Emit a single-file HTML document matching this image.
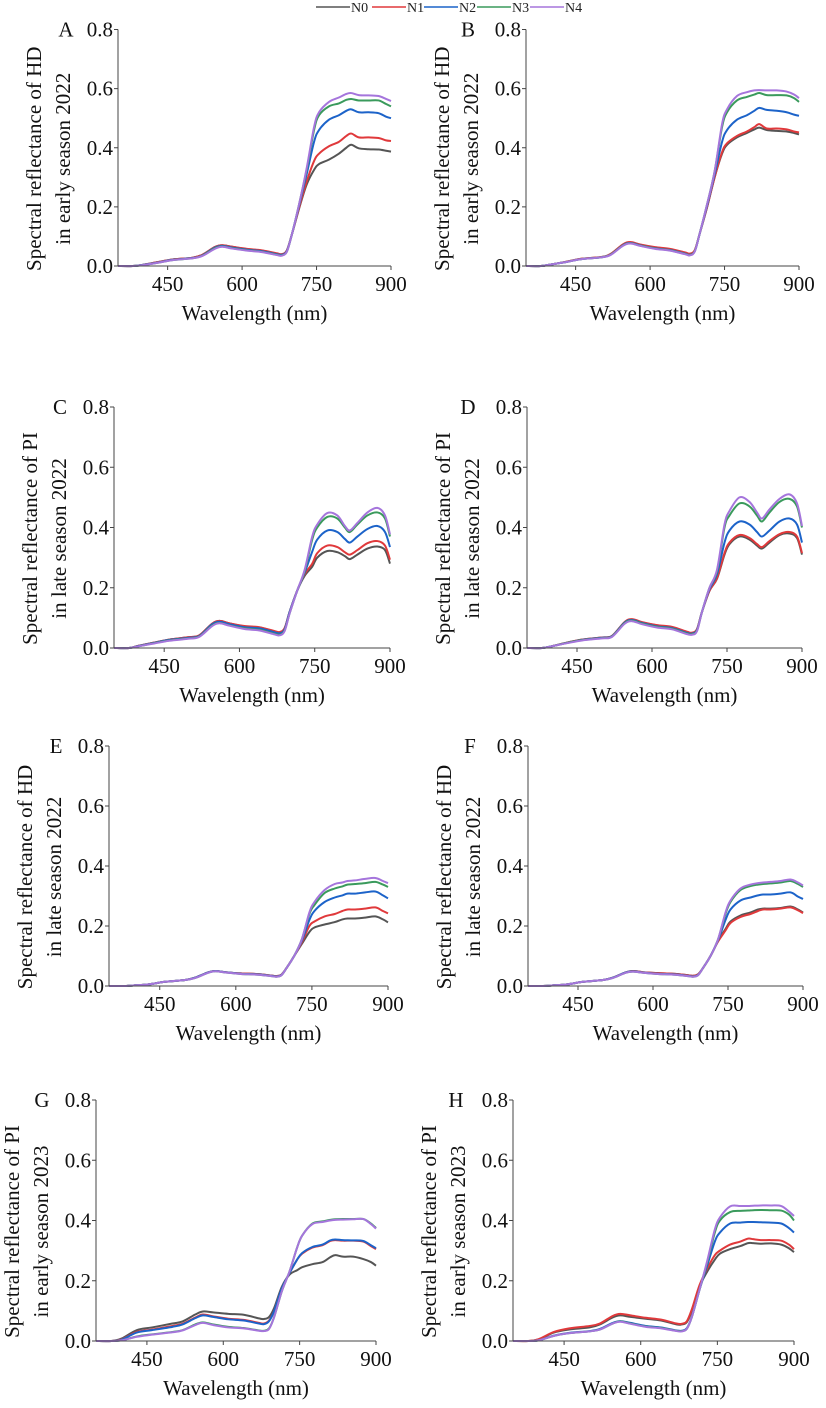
<!DOCTYPE html>
<html><head><meta charset="utf-8">
<style>
html,body{margin:0;padding:0;background:#fff;}
svg{display:block;}
svg text{font-family:"Liberation Serif","Times New Roman","DejaVu Serif",serif;}
</style></head>
<body>
<svg id="fig" width="826" height="1408" viewBox="0 0 826 1408" xmlns="http://www.w3.org/2000/svg" font-family="Liberation Serif, serif">
<g id="legend"></g>
</svg>
<script>
// shared wavelength grid (nm)
const wavelengths = [350,380,400,430,460,500,520,545,560,580,610,640,670,680,690,700,715,730,745,755,775,795,810,820,835,855,875,890,900];
const seriesNames = ["N0","N1","N2","N3","N4"];
const seriesColors = ["#555555","#e0393b","#1c63c9","#3a9a5c","#a575dc"];
const yTicks = [0,0.2,0.4,0.6,0.8];
const yTickLabels = ["0.0","0.2","0.4","0.6","0.8"];
const xTicks = [450,600,750,900];
const xTickLabels = ["450","600","750","900"];

const A_N0=[0,0,.004,.013,.022,.028,.038,.064,.070,.065,.057,.052,.042,.040,.052,.105,.195,.275,.325,.345,.360,.380,.400,.410,.398,.395,.394,.390,.387];
const A_N1=[0,0,.004,.013,.022,.028,.038,.064,.070,.065,.058,.053,.043,.040,.052,.105,.198,.285,.355,.380,.405,.420,.440,.448,.435,.435,.433,.425,.423];
const A_N2=[0,0,.004,.012,.021,.027,.036,.062,.068,.062,.055,.050,.040,.038,.050,.105,.205,.310,.420,.460,.495,.510,.525,.530,.520,.520,.517,.505,.500];
const A_N3=[0,0,.003,.011,.020,.026,.035,.060,.066,.060,.053,.048,.038,.036,.048,.105,.210,.325,.460,.510,.540,.550,.562,.565,.560,.560,.560,.548,.540];
const A_N4=[0,0,.003,.011,.020,.026,.034,.058,.065,.059,.052,.047,.037,.035,.048,.105,.210,.330,.470,.520,.555,.570,.582,.585,.578,.577,.575,.565,.558];

const B_N0=[0,0,.005,.014,.024,.030,.040,.072,.080,.072,.062,.056,.044,.040,.052,.110,.200,.300,.380,.410,.435,.450,.462,.468,.460,.457,.455,.450,.445];
const B_N1=[0,0,.005,.014,.024,.030,.040,.073,.081,.073,.064,.058,.046,.042,.054,.110,.200,.300,.385,.415,.440,.455,.470,.480,.465,.465,.462,.455,.452];
const B_N2=[0,0,.005,.013,.023,.029,.038,.070,.078,.070,.060,.054,.042,.038,.050,.110,.205,.310,.420,.460,.495,.510,.525,.535,.528,.525,.520,.512,.508];
const B_N3=[0,0,.005,.013,.023,.029,.038,.069,.077,.069,.059,.053,.041,.037,.050,.110,.210,.320,.470,.520,.560,.572,.580,.585,.578,.578,.577,.568,.555];
const B_N4=[0,0,.005,.013,.023,.029,.037,.068,.076,.068,.058,.052,.040,.036,.049,.110,.210,.320,.480,.530,.575,.588,.594,.595,.594,.594,.590,.580,.568];

const C_N0=[0,0,.008,.018,.028,.036,.042,.080,.090,.082,.072,.068,.055,.052,.065,.120,.190,.240,.270,.300,.322,.318,.305,.295,.310,.330,.337,.325,.280];
const C_N1=[0,0,.008,.018,.028,.036,.042,.080,.090,.082,.073,.069,.056,.053,.066,.120,.190,.245,.280,.315,.340,.335,.318,.310,.325,.348,.355,.340,.293];
const C_N2=[0,0,.007,.017,.027,.034,.040,.078,.087,.079,.069,.065,.052,.049,.062,.120,.190,.250,.320,.360,.390,.385,.362,.350,.370,.395,.405,.385,.335];
const C_N3=[0,0,.006,.016,.025,.032,.038,.074,.083,.075,.065,.060,.047,.044,.058,.115,.190,.255,.360,.400,.435,.430,.400,.385,.410,.440,.450,.430,.370];
const C_N4=[0,0,.006,.015,.024,.031,.037,.072,.082,.074,.063,.058,.045,.042,.056,.115,.190,.260,.370,.410,.448,.440,.405,.390,.415,.450,.465,.440,.377];

const D_N0=[0,0,.006,.018,.028,.035,.040,.085,.095,.085,.075,.068,.052,.050,.062,.120,.190,.230,.310,.345,.370,.360,.340,.330,.350,.375,.380,.365,.310];
const D_N1=[0,0,.006,.018,.028,.035,.040,.086,.096,.086,.076,.070,.054,.051,.063,.120,.190,.232,.315,.350,.375,.365,.345,.335,.355,.378,.385,.370,.315];
const D_N2=[0,0,.006,.017,.027,.034,.039,.084,.093,.083,.072,.066,.050,.048,.060,.120,.195,.245,.350,.390,.420,.410,.385,.370,.390,.420,.430,.410,.350];
const D_N3=[0,0,.006,.017,.026,.033,.038,.082,.091,.081,.070,.064,.048,.046,.058,.120,.200,.255,.400,.440,.480,.470,.440,.420,.450,.485,.495,.470,.400];
const D_N4=[0,0,.006,.016,.025,.032,.037,.080,.089,.079,.068,.062,.046,.044,.056,.120,.200,.260,.410,.455,.500,.485,.450,.430,.460,.495,.510,.480,.405];

const E_N0=[0,0,.002,.006,.014,.020,.028,.045,.050,.046,.042,.040,.035,.033,.038,.060,.100,.140,.180,.195,.205,.213,.222,.225,.225,.228,.232,.222,.212];
const E_N1=[0,0,.002,.006,.014,.020,.028,.045,.050,.046,.042,.040,.035,.033,.038,.060,.100,.145,.200,.215,.232,.240,.250,.255,.255,.258,.262,.250,.242];
const E_N2=[0,0,.002,.006,.014,.020,.028,.045,.050,.046,.041,.039,.034,.032,.037,.060,.100,.150,.220,.250,.280,.295,.302,.308,.308,.312,.315,.302,.292];
const E_N3=[0,0,.002,.006,.014,.020,.027,.044,.049,.045,.040,.038,.033,.031,.036,.060,.100,.155,.240,.270,.310,.325,.332,.338,.340,.343,.347,.338,.330];
const E_N4=[0,0,.002,.006,.014,.020,.027,.044,.049,.045,.040,.038,.033,.031,.036,.060,.100,.155,.245,.280,.320,.340,.345,.350,.352,.357,.360,.350,.343];

const F_N0=[0,0,.002,.006,.014,.020,.028,.045,.050,.046,.043,.041,.036,.034,.039,.060,.100,.150,.190,.215,.235,.245,.255,.258,.258,.260,.265,.255,.245];
const F_N1=[0,0,.002,.006,.014,.020,.028,.045,.050,.046,.043,.041,.036,.034,.039,.060,.100,.148,.185,.210,.230,.240,.250,.255,.255,.258,.262,.252,.243];
const F_N2=[0,0,.002,.006,.014,.020,.028,.045,.049,.045,.041,.039,.034,.032,.037,.060,.100,.152,.220,.255,.285,.295,.302,.305,.305,.308,.312,.298,.290];
const F_N3=[0,0,.002,.006,.014,.020,.027,.044,.048,.044,.040,.038,.033,.031,.036,.060,.100,.155,.240,.280,.320,.333,.338,.340,.342,.345,.350,.340,.330];
const F_N4=[0,0,.002,.006,.014,.020,.027,.044,.048,.044,.040,.038,.033,.031,.036,.060,.100,.155,.245,.285,.325,.338,.343,.345,.347,.350,.355,.345,.335];

const G_N0=[0,0,.008,.036,.045,.058,.065,.088,.098,.095,.090,.087,.075,.073,.080,.110,.180,.220,.235,.245,.255,.262,.278,.285,.280,.280,.272,.262,.250];
const G_N1=[0,0,.005,.030,.038,.050,.057,.078,.088,.082,.074,.070,.060,.058,.068,.100,.175,.225,.270,.290,.310,.318,.332,.335,.333,.333,.330,.315,.305];
const G_N2=[0,0,.004,.028,.036,.047,.055,.076,.085,.080,.072,.068,.058,.056,.066,.100,.175,.225,.270,.292,.312,.320,.334,.337,.335,.334,.332,.318,.308];
const G_N3=[0,0,.002,.015,.022,.030,.036,.055,.062,.055,.047,.043,.035,.034,.042,.080,.165,.230,.310,.350,.390,.397,.402,.404,.405,.405,.405,.390,.375];
const G_N4=[0,0,.002,.014,.021,.029,.035,.053,.060,.053,.045,.042,.034,.033,.040,.080,.165,.230,.310,.350,.388,.395,.400,.402,.403,.404,.405,.388,.373];

const H_N0=[0,0,.005,.028,.038,.045,.055,.078,.085,.080,.074,.068,.055,.055,.062,.100,.180,.230,.270,.290,.305,.315,.325,.325,.323,.324,.320,.308,.295];
const H_N1=[0,0,.006,.030,.042,.050,.058,.083,.090,.085,.077,.071,.058,.057,.065,.105,.185,.240,.285,.300,.320,.330,.340,.338,.335,.335,.333,.320,.305];
const H_N2=[0,0,.002,.018,.027,.033,.040,.060,.066,.060,.050,.045,.035,.034,.042,.080,.170,.250,.330,.360,.390,.393,.395,.395,.394,.393,.390,.375,.360];
const H_N3=[0,0,.002,.017,.026,.032,.038,.058,.065,.058,.048,.043,.034,.033,.040,.080,.170,.260,.360,.400,.428,.432,.433,.434,.435,.434,.433,.420,.400];
const H_N4=[0,0,.002,.017,.026,.032,.038,.058,.064,.057,.047,.042,.033,.032,.040,.080,.170,.265,.370,.410,.447,.448,.448,.449,.450,.450,.448,.430,.415];

const panels = [
 {id:"A",x0:118,x1:391,yt:29.5,yb:266,lx:66,t1:"Spectral reflectance of HD",t2:"in early season 2022",s:[A_N0,A_N1,A_N2,A_N3,A_N4]},
 {id:"B",x0:526,x1:799,yt:29.5,yb:266,lx:468,t1:"Spectral reflectance of HD",t2:"in early season 2022",s:[B_N0,B_N1,B_N2,B_N3,B_N4]},
 {id:"C",x0:114,x1:390,yt:407,yb:648,lx:60,t1:"Spectral reflectance of PI",t2:"in late season 2022",s:[C_N0,C_N1,C_N2,C_N3,C_N4]},
 {id:"D",x0:527,x1:802,yt:407,yb:648,lx:468,t1:"Spectral reflectance of PI",t2:"in late season 2022",s:[D_N0,D_N1,D_N2,D_N3,D_N4]},
 {id:"E",x0:109,x1:388,yt:746,yb:986,lx:56,t1:"Spectral reflectance of HD",t2:"in late season 2022",s:[E_N0,E_N1,E_N2,E_N3,E_N4]},
 {id:"F",x0:528,x1:803,yt:746,yb:986,lx:470,t1:"Spectral reflectance of HD",t2:"in late season 2022",s:[F_N0,F_N1,F_N2,F_N3,F_N4]},
 {id:"G",x0:96,x1:376,yt:1100,yb:1341,lx:42,t1:"Spectral reflectance of PI",t2:"in early season 2023",s:[G_N0,G_N1,G_N2,G_N3,G_N4]},
 {id:"H",x0:513,x1:794,yt:1100,yb:1341,lx:456,t1:"Spectral reflectance of PI",t2:"in early season 2023",s:[H_N0,H_N1,H_N2,H_N3,H_N4]}
];

const NS="http://www.w3.org/2000/svg";
const FONT="'Liberation Serif', 'Times New Roman', 'DejaVu Serif', serif";
const svg=document.getElementById("fig");
function mk(tag,attrs,parent){const e=document.createElementNS(NS,tag);for(const k in attrs)e.setAttribute(k,attrs[k]);if(tag==="text"){e.setAttribute("font-family",FONT);e.style.fontFamily=FONT;}parent.appendChild(e);return e;}
function smoothPath(pts){
  let d="M"+pts[0][0].toFixed(2)+","+pts[0][1].toFixed(2);
  for(let i=0;i<pts.length-1;i++){
    const p0=pts[Math.max(0,i-1)],p1=pts[i],p2=pts[i+1],p3=pts[Math.min(pts.length-1,i+2)];
    const c1x=p1[0]+(p2[0]-p0[0])/6,c1y=p1[1]+(p2[1]-p0[1])/6;
    const c2x=p2[0]-(p3[0]-p1[0])/6,c2y=p2[1]-(p3[1]-p1[1])/6;
    d+=" C"+c1x.toFixed(2)+","+c1y.toFixed(2)+" "+c2x.toFixed(2)+","+c2y.toFixed(2)+" "+p2[0].toFixed(2)+","+p2[1].toFixed(2);
  }
  return d;
}

panels.forEach(p=>{
  const g=mk("g",{},svg);
  
  
  const xs=w=>p.x0+(w-350)/(900-350)*(p.x1-p.x0);
  const ys=v=>p.yb-(v/0.8)*(p.yb-p.yt);
  p.s.forEach((vals,si)=>{
    const pts=wavelengths.map((w,i)=>[xs(w),ys(vals[i])]);
    const path=mk("path",{d:smoothPath(pts),fill:"none",stroke:seriesColors[si],"stroke-width":"2","stroke-linejoin":"round"},g);
    
    
  });
  const ya=mk("line",{x1:p.x0,y1:p.yt,x2:p.x0,y2:p.yb,stroke:"#444","stroke-width":"1"},g);
  
  
  const xa=mk("line",{x1:p.x0,y1:p.yb,x2:p.x1,y2:p.yb,stroke:"#444","stroke-width":"1"},g);
  
  
  yTicks.forEach((v,i)=>{
    const y=ys(v);
    mk("line",{x1:p.x0-4,y1:y,x2:p.x0,y2:y,stroke:"#444","stroke-width":"1"},g);
    const t=mk("text",{x:p.x0-5,y:y+7,"text-anchor":"end","font-size":"21",fill:"#111"},g);
    t.textContent=yTickLabels[i];
    
    
  });
  xTicks.forEach((w,i)=>{
    const x=xs(w);
    mk("line",{x1:x,y1:p.yb,x2:x,y2:p.yb+4,stroke:"#444","stroke-width":"1"},g);
    const t=mk("text",{x:x,y:p.yb+25,"text-anchor":"middle","font-size":"21",fill:"#111"},g);
    t.textContent=xTickLabels[i];
    
    
  });
  const xt=mk("text",{x:(p.x0+p.x1)/2,y:p.yb+54,"text-anchor":"middle","font-size":"21",fill:"#111"},g);
  xt.textContent="Wavelength (nm)";
  
  
  const cy=(p.yt+p.yb)/2+11;
  const y1=mk("text",{x:0,y:0,"text-anchor":"middle","font-size":"21",fill:"#111",transform:"translate("+(p.x0-77)+","+cy+") rotate(-90)"},g);
  y1.textContent=p.t1;
  
  
  const y2=mk("text",{x:0,y:0,"text-anchor":"middle","font-size":"21",fill:"#111",transform:"translate("+(p.x0-48)+","+cy+") rotate(-90)"},g);
  y2.textContent=p.t2;
  
  
  const lt=mk("text",{x:p.lx,y:p.yt+7,"text-anchor":"middle","font-size":"21",fill:"#111"},g);
  lt.textContent=p.id;
  
  
});

const legend=document.getElementById("legend");
const legendX=[316,372,424,477,530];
seriesNames.forEach((n,i)=>{
  const eg=mk("g",{},legend);
  
  
  mk("line",{x1:legendX[i],y1:7,x2:legendX[i]+34,y2:7,stroke:seriesColors[i],"stroke-width":"1.6"},eg);
  const t=mk("text",{x:legendX[i]+35,y:12,"font-size":"14",fill:"#222"},eg);
  t.textContent=n;
});
</script>
</body></html>
